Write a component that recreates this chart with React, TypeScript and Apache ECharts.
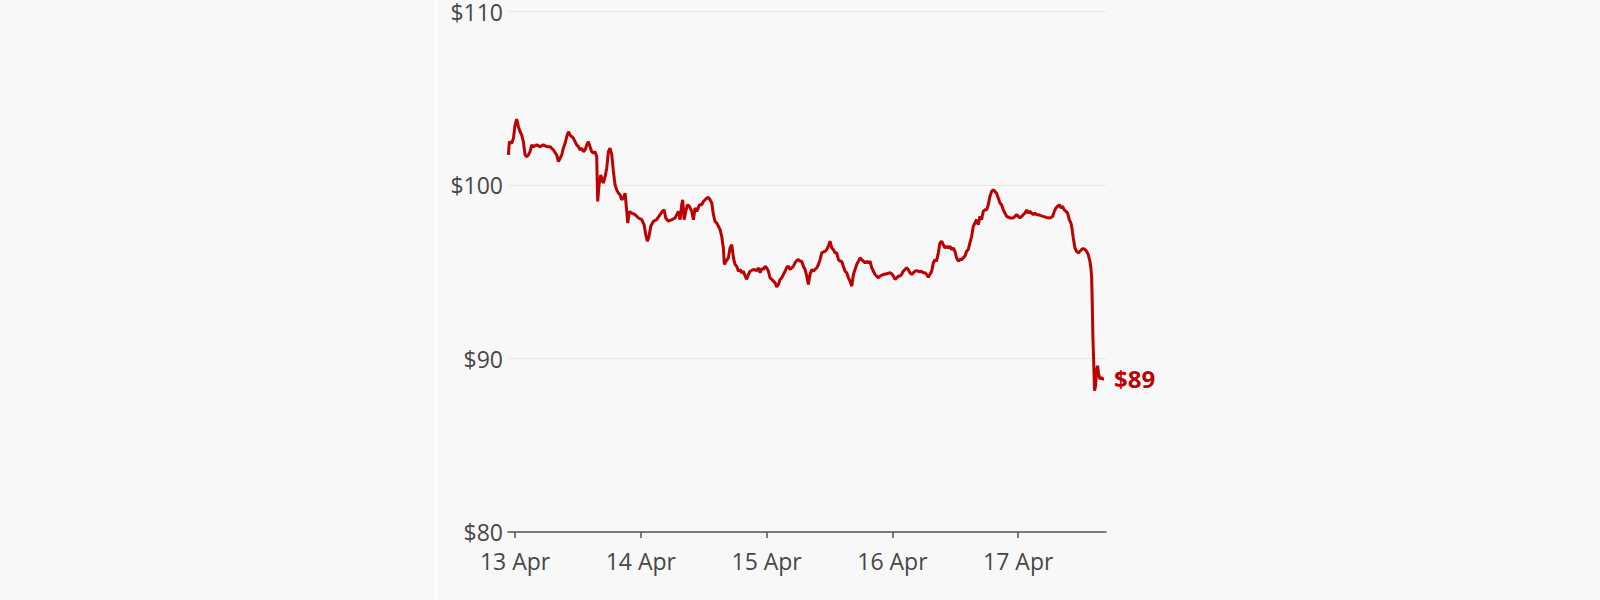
import { useEffect, useRef } from "react";
import * as echarts from "echarts";

// time in days from 13 Apr 00:00, price in USD
const times = [
  -0.053, -0.045, -0.026, -0.013, 0.0, 0.013, 0.027, 0.04, 0.053, 0.066, 0.08, 0.093, 0.106, 0.119, 0.133, 0.146,
  0.172, 0.199, 0.225, 0.252, 0.278, 0.305, 0.331, 0.345, 0.358, 0.371, 0.384, 0.398, 0.411, 0.424, 0.437, 0.451,
  0.464, 0.477, 0.49, 0.504, 0.517, 0.53, 0.543, 0.557, 0.57, 0.583, 0.596, 0.61, 0.623, 0.636, 0.649, 0.657, 0.668,
  0.681, 0.702, 0.716, 0.729, 0.742, 0.755, 0.769, 0.782, 0.795, 0.808, 0.822, 0.835, 0.848, 0.861, 0.875, 0.888,
  0.896, 0.909, 0.928, 0.954, 0.981, 1.007, 1.026, 1.039, 1.052, 1.065, 1.079, 1.1, 1.126, 1.153, 1.171, 1.185,
  1.198, 1.219, 1.246, 1.272, 1.299, 1.312, 1.325, 1.333, 1.344, 1.357, 1.37, 1.386, 1.405, 1.418, 1.431, 1.445,
  1.466, 1.484, 1.497, 1.511, 1.524, 1.537, 1.55, 1.564, 1.577, 1.59, 1.603, 1.617, 1.63, 1.643, 1.656, 1.664, 1.678,
  1.696, 1.709, 1.723, 1.736, 1.749, 1.762, 1.776, 1.789, 1.802, 1.815, 1.829, 1.842, 1.855, 1.868, 1.895, 1.921,
  1.935, 1.948, 1.961, 1.974, 1.988, 2.001, 2.014, 2.027, 2.041, 2.054, 2.067, 2.08, 2.094, 2.107, 2.12, 2.133,
  2.147, 2.16, 2.173, 2.186, 2.2, 2.213, 2.226, 2.239, 2.253, 2.266, 2.279, 2.292, 2.306, 2.319, 2.332, 2.345, 2.359,
  2.372, 2.385, 2.398, 2.412, 2.425, 2.438, 2.451, 2.465, 2.478, 2.491, 2.504, 2.518, 2.531, 2.544, 2.557, 2.571,
  2.584, 2.597, 2.61, 2.624, 2.637, 2.65, 2.663, 2.677, 2.69, 2.703, 2.716, 2.73, 2.743, 2.756, 2.769, 2.783, 2.796,
  2.809, 2.822, 2.836, 2.849, 2.862, 2.875, 2.889, 2.902, 2.915, 2.928, 2.955, 2.981, 2.995, 3.008, 3.021, 3.034,
  3.048, 3.06, 3.073, 3.086, 3.1, 3.113, 3.126, 3.139, 3.153, 3.166, 3.179, 3.192, 3.206, 3.219, 3.232, 3.245, 3.259,
  3.272, 3.285, 3.298, 3.312, 3.325, 3.338, 3.351, 3.365, 3.378, 3.391, 3.404, 3.418, 3.431, 3.444, 3.457, 3.471,
  3.484, 3.497, 3.51, 3.524, 3.537, 3.55, 3.563, 3.577, 3.59, 3.603, 3.616, 3.63, 3.643, 3.656, 3.669, 3.683, 3.696,
  3.709, 3.722, 3.736, 3.749, 3.762, 3.775, 3.789, 3.802, 3.815, 3.828, 3.842, 3.855, 3.868, 3.881, 3.895, 3.908,
  3.934, 3.961, 3.974, 3.987, 4.001, 4.014, 4.027, 4.04, 4.054, 4.067, 4.08, 4.093, 4.107, 4.12, 4.133, 4.146, 4.16,
  4.173, 4.199, 4.226, 4.252, 4.274, 4.287, 4.3, 4.313, 4.327, 4.34, 4.353, 4.366, 4.38, 4.393, 4.406, 4.419, 4.427,
  4.438, 4.451, 4.464, 4.478, 4.491, 4.504, 4.517, 4.531, 4.544, 4.557, 4.57, 4.578, 4.584, 4.589, 4.594, 4.599,
  4.607, 4.615, 4.623, 4.631, 4.639, 4.65, 4.66, 4.671, 4.682
];

const prices = [
  101.73, 102.5, 102.4, 102.69, 103.45, 103.8, 103.36, 103.07, 102.88, 102.5, 101.73, 101.64, 101.73, 101.92, 102.31,
  102.21, 102.31, 102.21, 102.31, 102.21, 102.21, 102.02, 101.73, 101.35, 101.54, 101.73, 102.12, 102.4, 102.79,
  103.07, 102.88, 102.79, 102.69, 102.5, 102.31, 102.21, 102.02, 102.12, 101.92, 102.02, 102.31, 102.5, 102.21,
  101.92, 101.83, 101.92, 101.64, 99.05, 100.01, 100.58, 100.11, 100.49, 100.97, 101.92, 102.12, 101.73, 100.78,
  100.01, 99.72, 99.53, 99.44, 99.15, 99.25, 99.53, 98.48, 97.81, 98.48, 98.38, 98.29, 98.1, 98.0, 97.71, 97.14,
  96.76, 97.04, 97.62, 97.91, 98.0, 98.29, 98.48, 98.57, 98.1, 97.91, 98.0, 98.1, 98.48, 98.0, 98.86, 99.15, 98.0,
  98.48, 98.86, 98.77, 98.48, 98.0, 98.67, 98.48, 98.86, 98.86, 99.05, 99.15, 99.24, 99.28, 99.15, 98.96, 98.29,
  97.9, 97.81, 97.62, 97.43, 97.04, 96.37, 95.42, 95.61, 95.8, 96.37, 96.56, 95.8, 95.42, 95.32, 95.03, 95.13, 94.94,
  95.03, 94.75, 94.56, 94.84, 95.03, 95.13, 95.07, 95.22, 94.94, 95.19, 95.13, 95.32, 95.22, 95.03, 94.65, 94.56,
  94.46, 94.36, 94.12, 94.27, 94.56, 94.65, 94.84, 95.03, 95.26, 95.32, 95.13, 95.22, 95.32, 95.51, 95.65, 95.7,
  95.61, 95.61, 95.32, 95.13, 94.75, 94.27, 94.84, 95.13, 95.03, 95.13, 95.22, 95.42, 95.7, 96.09, 96.14, 96.18,
  96.28, 96.47, 96.76, 96.37, 96.28, 96.09, 96.09, 95.7, 95.61, 95.61, 95.32, 95.03, 94.94, 94.65, 94.46, 94.17,
  94.84, 95.13, 95.42, 95.61, 95.8, 95.7, 95.61, 95.51, 95.61, 95.51, 95.61, 95.22, 95.03, 94.84, 94.75, 94.65,
  94.75, 94.8, 94.84, 94.88, 94.94, 94.88, 94.75, 94.56, 94.65, 94.75, 94.75, 94.84, 95.03, 95.13, 95.23, 95.13,
  94.94, 94.84, 94.94, 95.03, 95.07, 95.03, 95.0, 95.03, 94.94, 94.94, 94.84, 94.69, 94.84, 95.03, 95.51, 95.7,
  95.61, 96.09, 96.66, 96.76, 96.57, 96.37, 96.47, 96.37, 96.47, 96.28, 96.37, 96.18, 95.8, 95.61, 95.7, 95.7, 95.8,
  95.9, 96.18, 96.28, 96.66, 97.04, 97.62, 97.81, 98.0, 97.71, 98.19, 98.0, 98.48, 98.57, 98.57, 98.86, 99.34,
  99.63, 99.72, 99.63, 99.53, 99.24, 98.96, 98.86, 98.57, 98.38, 98.19, 98.1, 98.1, 98.19, 98.29, 98.19, 98.1,
  98.19, 98.29, 98.38, 98.57, 98.38, 98.48, 98.38, 98.29, 98.38, 98.29, 98.29, 98.25, 98.19, 98.13, 98.1, 98.19,
  98.48, 98.67, 98.77, 98.86, 98.67, 98.77, 98.57, 98.48, 98.38, 98.0, 97.81, 97.52, 96.95, 96.37, 96.18, 96.09,
  96.18, 96.28, 96.34, 96.28, 96.18, 95.99, 95.61, 95.23, 94.65, 93.12, 91.21, 90.06, 88.15, 88.43, 89.29, 89.58,
  89.1, 88.82, 88.91, 88.82, 88.82
];

const dayTicks = [0, 1, 2, 3, 4];
const dayLabels = ["13 Apr", "14 Apr", "15 Apr", "16 Apr", "17 Apr"];

const RED = "#bd0000";
const TEXT = "#474747";
const FONT = "Open Sans";

export default function App() {
  const chartRef = useRef<HTMLDivElement>(null);

  useEffect(() => {
    if (!chartRef.current) return;
    const chart = echarts.init(chartRef.current, null, { renderer: "svg" });

    const option = {
      animation: false,
      backgroundColor: "#f8f8f8",
      textStyle: { fontFamily: FONT },
      graphic: [
        {
          type: "rect",
          left: 434,
          top: 0,
          shape: { width: 3, height: 600 },
          style: { fill: "#ffffff", opacity: 0.7 },
          silent: true
        }
      ],
      grid: { left: 508, right: 494, top: 9, bottom: 68 },
      xAxis: {
        type: "value",
        min: -0.056,
        max: 4.698,
        axisLine: { show: true, onZero: false, lineStyle: { color: "#555555", width: 1.5 } },
        axisTick: { show: true, customValues: dayTicks, length: 6, lineStyle: { color: "#555555", width: 1.5 } },
        axisLabel: {
          customValues: dayTicks,
          formatter: (v: number) => dayLabels[dayTicks.indexOf(Math.round(v))] ?? "",
          color: TEXT,
          fontFamily: FONT,
          fontSize: 23,
          margin: 17
        },
        splitLine: { show: false }
      },
      yAxis: {
        type: "value",
        min: 80,
        max: 110,
        interval: 10,
        axisLine: { show: false },
        axisTick: { show: false },
        axisLabel: {
          formatter: (v: number) => "$" + v,
          color: TEXT,
          fontFamily: FONT,
          fontSize: 23,
          margin: 5
        },
        splitLine: { lineStyle: { color: "#e8e8e8", width: 1 } }
      },
      series: [
        {
          type: "line",
          data: times.map((t, i) => [t, prices[i]]),
          showSymbol: false,
          lineStyle: { color: RED, width: 3 },
          itemStyle: { color: RED },
          endLabel: {
            show: true,
            formatter: () => "$" + Math.round(prices[prices.length - 1]),
            color: RED,
            fontFamily: FONT,
            fontWeight: "bold",
            fontSize: 24,
            distance: 10
          }
        }
      ]
    };

    chart.setOption(option);
    return () => chart.dispose();
  }, []);

  return (
    <div
      ref={chartRef}
      style={{ position: "fixed", left: 0, top: 0, width: 1600, height: 600, background: "#f8f8f8" }}
    />
  );
}
